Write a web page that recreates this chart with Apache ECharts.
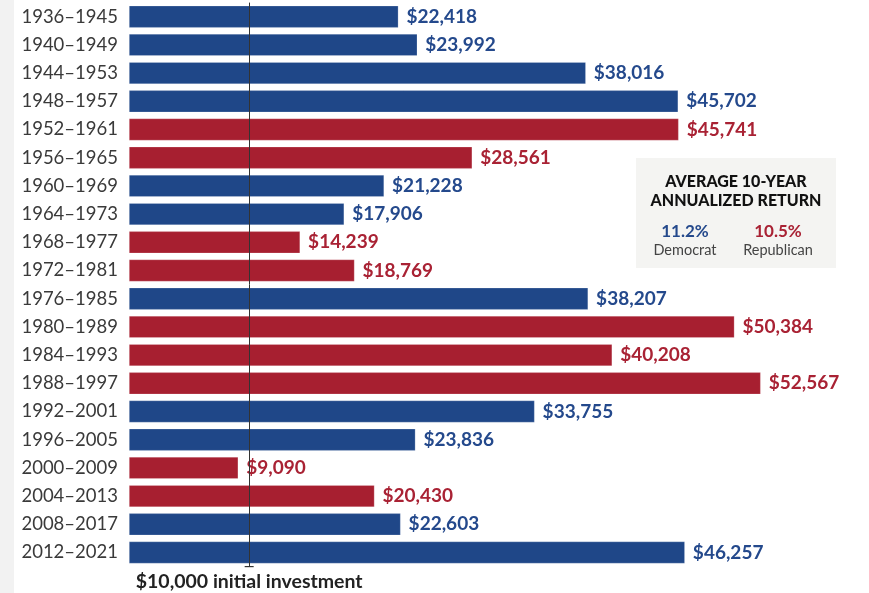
<!DOCTYPE html>
<html>
<head>
<meta charset="utf-8">
<script src="https://cdn.jsdelivr.net/npm/echarts@6/dist/echarts.min.js"></script>
<style>
  html, body { margin: 0; padding: 0; background: #ffffff; }
  #chart { width: 869px; height: 593px; }
</style>
</head>
<body>
<div id="chart"></div>
<script>
// Ten-year windows and the growth of a $10,000 investment over each one
const periods = [
  '1936–1945', '1940–1949', '1944–1953', '1948–1957', '1952–1961',
  '1956–1965', '1960–1969', '1964–1973', '1968–1977', '1972–1981',
  '1976–1985', '1980–1989', '1984–1993', '1988–1997', '1992–2001',
  '1996–2005', '2000–2009', '2004–2013', '2008–2017', '2012–2021'
];
const endingValues = [
  22418, 23992, 38016, 45702, 45741,
  28561, 21228, 17906, 14239, 18769,
  38207, 50384, 40208, 52567, 33755,
  23836, 9090, 20430, 22603, 46257
];
// Party of the president at the start of each window: D = Democrat, R = Republican
const parties = [
  'D', 'D', 'D', 'D', 'R',
  'R', 'D', 'D', 'R', 'R',
  'D', 'R', 'R', 'R', 'D',
  'D', 'R', 'R', 'D', 'D'
];
const initialInvestment = 10000;
const averageReturns = { D: '11.2%', R: '10.5%' };
const partyNames = { D: 'Democrat', R: 'Republican' };

const barColors = { D: '#1f4788', R: '#a71f30' };
const labelColors = { D: '#24498c', R: '#a92234' };

const fmt = v => '$' + v.toLocaleString('en-US');

const chart = echarts.init(document.getElementById('chart'));

const barData = endingValues.map((v, i) => ({
  value: v,
  itemStyle: { color: barColors[parties[i]] },
  label: { color: labelColors[parties[i]] }
}));

chart.setOption({
  animation: false,
  backgroundColor: '#ffffff',
  grid: { left: 129, right: 19, top: 2.6, height: 564, containLabel: false },
  xAxis: {
    type: 'value',
    min: 0,
    max: 60000,
    show: false
  },
  yAxis: {
    type: 'category',
    data: periods,
    inverse: true,
    axisLine: { show: false },
    axisTick: { show: false },
    axisLabel: {
      margin: 11,
      fontFamily: 'Lato',
      fontSize: 18.5,
      color: '#3a3a3a'
    }
  },
  graphic: [
    {
      type: 'rect',
      left: 0, top: 0,
      shape: { width: 14, height: 593 },
      style: { fill: '#f2f2f2' },
      z: -1
    },
    {
      type: 'group',
      left: 636, top: 158,
      children: [
        { type: 'rect', shape: { width: 200, height: 110 }, style: { fill: '#f4f4f2' } },
        {
          type: 'text', x: 100, y: 33,
          style: {
            text: 'AVERAGE 10-YEAR\nANNUALIZED RETURN',
            font: '900 16px Lato', fill: '#111111',
            align: 'center', verticalAlign: 'middle', lineHeight: 19
          }
        },
        {
          type: 'text', x: 49, y: 74,
          style: {
            text: averageReturns.D, font: 'bold 17px Lato', fill: labelColors.D,
            align: 'center', verticalAlign: 'middle'
          }
        },
        {
          type: 'text', x: 49, y: 92,
          style: {
            text: partyNames.D, font: '14.5px Lato', fill: '#444444',
            align: 'center', verticalAlign: 'middle'
          }
        },
        {
          type: 'text', x: 142, y: 74,
          style: {
            text: averageReturns.R, font: 'bold 17px Lato', fill: labelColors.R,
            align: 'center', verticalAlign: 'middle'
          }
        },
        {
          type: 'text', x: 142, y: 92,
          style: {
            text: partyNames.R, font: '14.5px Lato', fill: '#444444',
            align: 'center', verticalAlign: 'middle'
          }
        }
      ]
    }
  ],
  series: [
    {
      type: 'bar',
      data: barData,
      barWidth: 22,
      itemStyle: { borderColor: 'rgba(255,255,255,0.35)', borderWidth: 0.6 },
      label: {
        show: true,
        position: 'right',
        distance: 8,
        formatter: p => fmt(p.value),
        fontFamily: 'Lato',
        fontWeight: 'bold',
        fontSize: 19
      },
      markLine: {
        silent: true,
        symbol: ['none', 'rect'],
        symbolSize: [9, 1.2],
        lineStyle: { color: '#333333', width: 1, type: 'solid' },
        label: {
          show: true,
          position: 'end',
          distance: 5,
          formatter: '$10,000 initial investment',
          fontFamily: 'Lato',
          fontWeight: 'bold',
          fontSize: 19.5,
          color: '#222222'
        },
        data: [{ xAxis: initialInvestment }],
        z: 5
      },
      z: 2
    }
  ]
});
</script>
</body>
</html>
